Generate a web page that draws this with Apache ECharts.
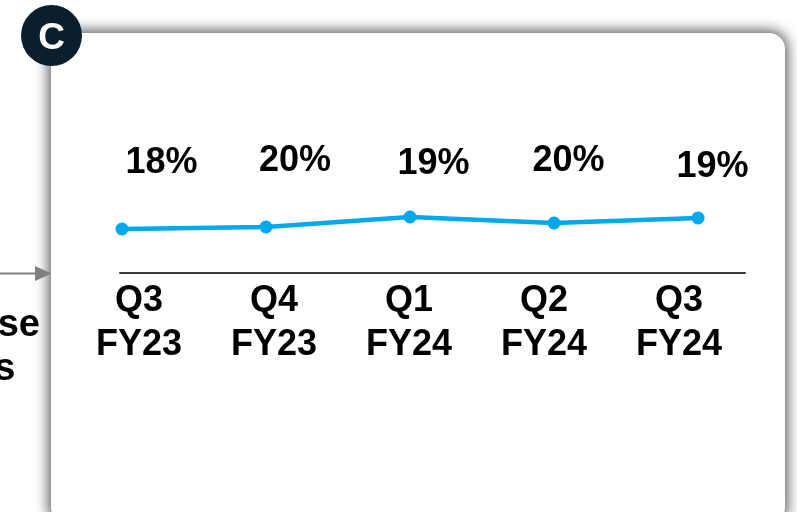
<!DOCTYPE html>
<html>
<head>
<meta charset="utf-8">
<script src="https://cdn.jsdelivr.net/npm/echarts@6/dist/echarts.min.js"></script>
<style>
html,body{margin:0;padding:0;background:#fff;overflow:hidden;}
#wrap{position:relative;width:797px;height:512px;}
#card{position:absolute;left:51px;top:33px;width:734px;height:490px;background:#fff;border-radius:16px;box-shadow:0 0 13px 3px rgba(0,0,0,0.62);}
#chart{position:absolute;left:0;top:0;width:797px;height:512px;}
</style>
</head>
<body>
<div id="wrap"><div id="card"></div><div id="chart"></div></div>
<script>
// Data
const categories = ['Q3\nFY23', 'Q4\nFY23', 'Q1\nFY24', 'Q2\nFY24', 'Q3\nFY24'];
const labelValues = [18, 20, 19, 20, 19];            // printed labels (%)
const plotValues = [18.4, 18.6, 19.6, 19.0, 19.5];    // plotted line heights (%)

const FONT = "'Liberation Sans', Arial, sans-serif";
const BLUE = '#00a8ec';
// label placement relative to each point (styling)
const labelShift = [[39.5, -65.5], [29, -65.7], [23.5, -52.8], [14.5, -61.7], [14.5, -51.3]];

const chart = echarts.init(document.getElementById('chart'), null, {renderer: 'canvas'});
chart.setOption({
  backgroundColor: 'transparent',
  animation: false,
  grid: [
    {left: 120, right: 52, top: 193, bottom: 239},
    {left: 71.5, right: 50.5, top: 193, bottom: 239}
  ],
  xAxis: [
    {type: 'value', gridIndex: 0, min: -0.0139, max: 4.326,
     axisLine: {show: true, onZero: false, lineStyle: {color: '#3a3a3a', width: 2}},
     axisTick: {show: false}, axisLabel: {show: false}, splitLine: {show: false}},
    {type: 'category', gridIndex: 1, data: categories, boundaryGap: true,
     axisLine: {show: false}, axisTick: {show: false}, splitLine: {show: false},
     axisLabel: {interval: 0, margin: 6, fontSize: 36, fontWeight: 'bold', color: '#000',
                 lineHeight: 44, fontFamily: FONT}}
  ],
  yAxis: [
    {type: 'value', gridIndex: 0, min: 14, max: 22, show: false},
    {type: 'value', gridIndex: 1, min: 0, max: 1, show: false}
  ],
  series: [{
    type: 'line', xAxisIndex: 0, yAxisIndex: 0,
    data: plotValues.map((v, i) => ({value: [i, v], label: {offset: labelShift[i]}})),
    symbol: 'circle', symbolSize: 13,
    lineStyle: {color: BLUE, width: 4.5},
    itemStyle: {color: BLUE},
    emphasis: {disabled: true},
    label: {show: true, position: 'inside', align: 'center', verticalAlign: 'middle',
            formatter: p => labelValues[p.dataIndex] + '%',
            fontSize: 36, fontWeight: 'bold', color: '#000', fontFamily: FONT}
  }],
  graphic: [
    {type: 'line', z: 50, shape: {x1: 0, y1: 273.5, x2: 40, y2: 273.5},
     style: {stroke: '#7f7f7f', lineWidth: 2}},
    {type: 'polygon', z: 50, shape: {points: [[35, 266], [51.5, 273.5], [35, 281]]},
     style: {fill: '#7f7f7f'}},
    {type: 'text', z: 50, x: 40, y: 326,
     style: {text: 'se', align: 'right', verticalAlign: 'middle', fill: '#000',
             font: "bold 38px 'Liberation Sans', Arial, sans-serif"}},
    {type: 'text', z: 50, x: 15.5, y: 370,
     style: {text: 's', align: 'right', verticalAlign: 'middle', fill: '#000',
             font: "bold 38px 'Liberation Sans', Arial, sans-serif"}},
    {type: 'circle', z: 100, shape: {cx: 51.5, cy: 35.5, r: 30.5},
     style: {fill: '#0b1e2d'}},
    {type: 'text', z: 101, x: 51.5, y: 38.5,
     style: {text: 'C', align: 'center', verticalAlign: 'middle', fill: '#fff',
             font: "bold 37px 'Liberation Sans', Arial, sans-serif"}}
  ]
});
</script>
</body>
</html>
